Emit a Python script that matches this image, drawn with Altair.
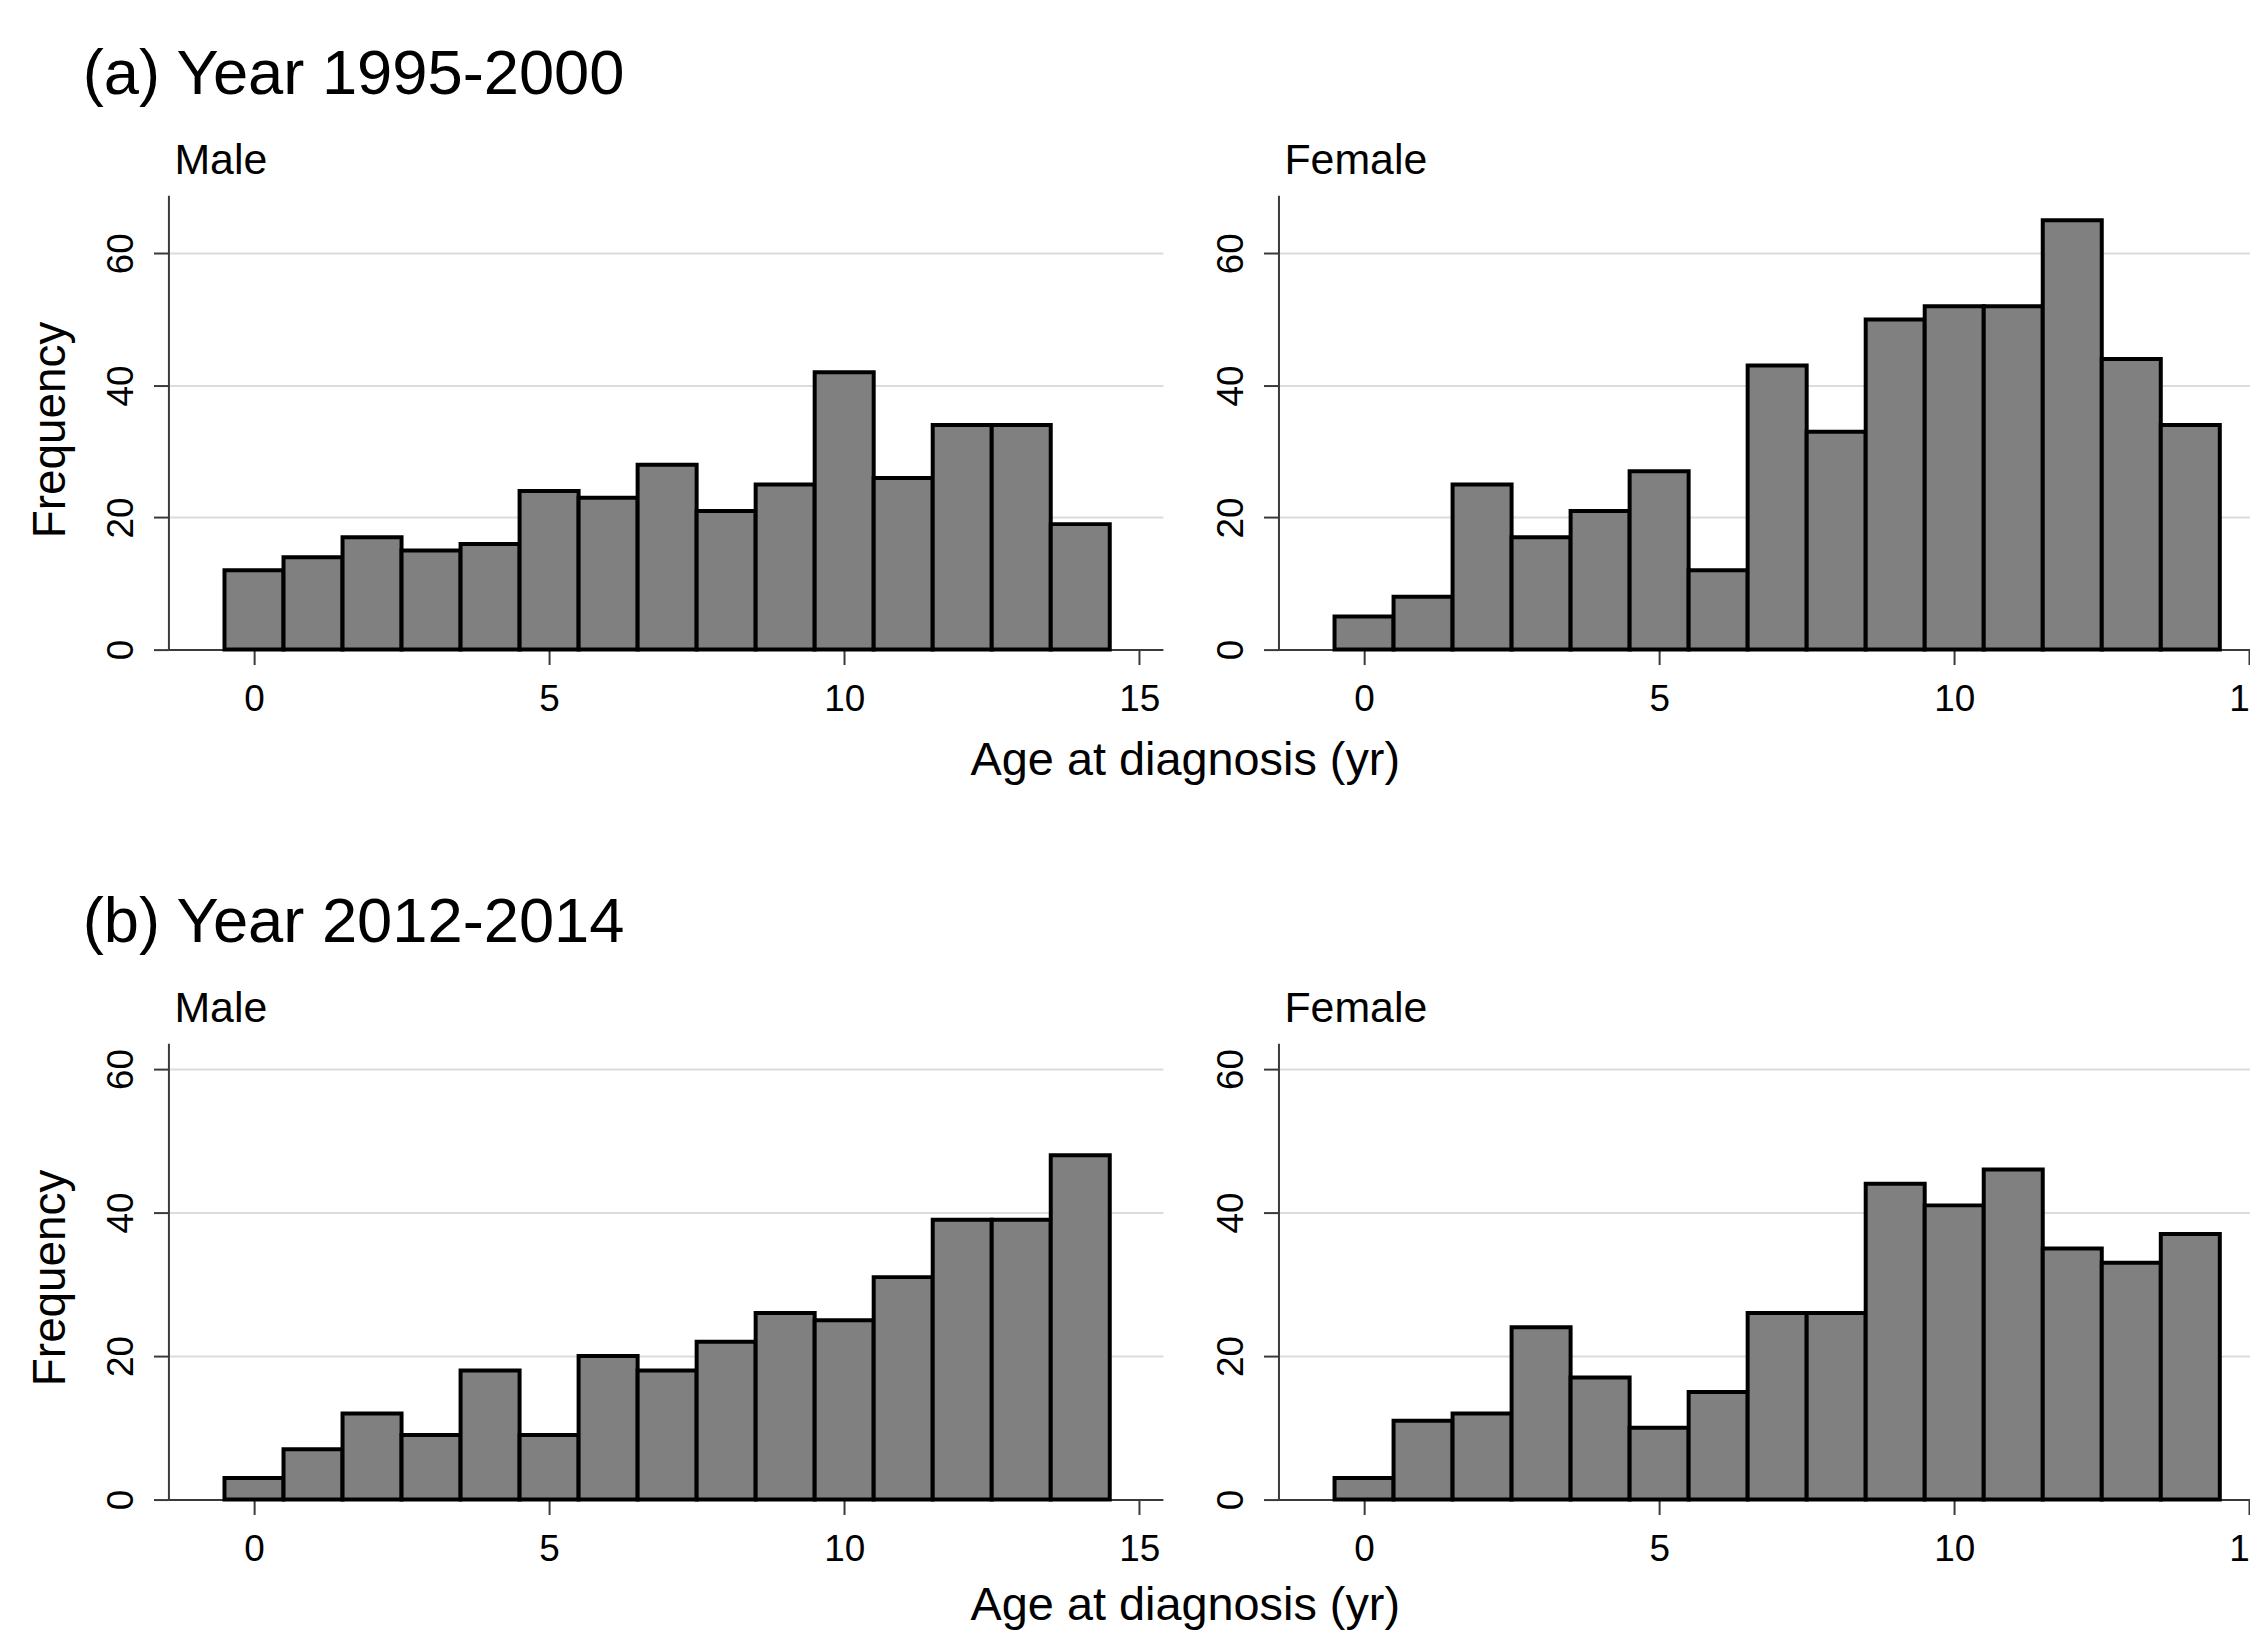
import altair as alt
import pandas as pd

# ---- data ----
AGES = list(range(15))
MALE_1995 = [12, 14, 17, 15, 16, 24, 23, 28, 21, 25, 42, 26, 34, 34, 19]
FEMALE_1995 = [5, 8, 25, 17, 21, 27, 12, 43, 33, 50, 52, 52, 65, 44, 34]
MALE_2012 = [3, 7, 12, 9, 18, 9, 20, 18, 22, 26, 25, 31, 39, 39, 48]
FEMALE_2012 = [3, 11, 12, 24, 17, 10, 15, 26, 26, 44, 41, 46, 35, 33, 37]

X_TICKS = [0, 5, 10, 15]
Y_TICKS = [0, 20, 40, 60]
ROW_TITLES = ["(a) Year 1995-2000", "(b) Year 2012-2014"]
SEXES = ["Male", "Female"]
X_TITLE = "Age at diagnosis (yr)"
Y_TITLE = "Frequency"

FONT = "Liberation Sans"
AXIS_COLOR = "#3a3a3a"
GRID_COLOR = "#dcdcdc"
BAR_FILL = "#808080"

PANEL_W = 998
X_DOMAIN = [-1.45, 15.4]


def panel(counts, sex, ymax, height, first, xtitle_y):
    df = pd.DataFrame({"age": AGES, "count": counts})
    x_kwargs = dict(
        values=X_TICKS, grid=False, format="d",
        domainColor=AXIS_COLOR, domainWidth=2,
        tickColor=AXIS_COLOR, tickWidth=2, tickSize=15,
        labelFont=FONT, labelFontSize=37, labelColor="#000",
        labelBaseline="top", labelPadding=17, labelAngle=0,
    )
    y_kwargs = dict(
        values=Y_TICKS, grid=True, gridColor=GRID_COLOR, gridWidth=2,
        format="d",
        domainColor=AXIS_COLOR, domainWidth=2,
        tickColor=AXIS_COLOR, tickWidth=2, tickSize=15,
        labelFont=FONT, labelFontSize=37, labelColor="#000",
        labelAngle=270, labelAlign="center", labelBaseline="alphabetic",
        labelPadding=21,
    )
    if first:
        x_axis = alt.Axis(
            title=X_TITLE, titleFont=FONT, titleFontSize=47,
            titleFontWeight="normal", titleColor="#000",
            titleX=1020, titleY=xtitle_y, titleAlign="center",
            titleBaseline="alphabetic", titleAngle=0, **x_kwargs)
        y_axis = alt.Axis(
            title=Y_TITLE, titleFont=FONT, titleFontSize=46,
            titleFontWeight="normal", titleColor="#000",
            titleX=-104, titleY=235, titleAlign="center",
            titleBaseline="alphabetic", titleAngle=270, **y_kwargs)
        x_enc = alt.X("lo:Q", scale=alt.Scale(domain=X_DOMAIN, nice=False, zero=False), axis=x_axis)
        y_enc = alt.Y("count:Q", scale=alt.Scale(domain=[0, ymax], nice=False), axis=y_axis)
    else:
        x_enc = alt.X("lo:Q", title=None,
                      scale=alt.Scale(domain=X_DOMAIN, nice=False, zero=False),
                      axis=alt.Axis(**x_kwargs))
        y_enc = alt.Y("count:Q", title=None,
                      scale=alt.Scale(domain=[0, ymax], nice=False),
                      axis=alt.Axis(**y_kwargs))
    return (
        alt.Chart(df)
        .transform_calculate(lo="datum.age - 0.5", hi="datum.age + 0.5")
        .mark_bar(fill=BAR_FILL, stroke="#000", strokeWidth=4, opacity=1)
        .encode(x=x_enc, x2="hi:Q", y=y_enc, y2=alt.datum(0))
        .properties(
            width=PANEL_W, height=height,
            title=alt.TitleParams(
                text=sex, anchor="start", frame="group", dx=6, offset=-22,
                baseline="alphabetic", font=FONT, fontSize=43,
                fontWeight="normal", color="#000"),
        )
    )


def row(title, male, female, ymax, height, xtitle_y):
    return alt.hconcat(
        panel(male, SEXES[0], ymax, height, True, xtitle_y),
        panel(female, SEXES[1], ymax, height, False, xtitle_y),
        spacing=116, bounds="flush",
        title=alt.TitleParams(
            text=title, anchor="start", frame="group", dx=-86, offset=-17,
            baseline="alphabetic", font=FONT, fontSize=63.5,
            fontWeight="normal", color="#000"),
    )


row_a = row(ROW_TITLES[0], MALE_1995, FEMALE_1995, 68.8, 456, 125)
row_b = row(ROW_TITLES[1], MALE_2012, FEMALE_2012, 63.6, 458, 120)

chart = (
    alt.vconcat(row_a, row_b, spacing=108)
    .properties(
        autosize=alt.AutoSizeParams(type="none"),
        padding={"left": 161, "top": 185, "right": 2089, "bottom": 1437},
        background="white",
    )
    .configure_view(strokeWidth=0, stroke="transparent")
)

chart.save("out.html", embed_options={"renderer": "svg", "actions": False})
